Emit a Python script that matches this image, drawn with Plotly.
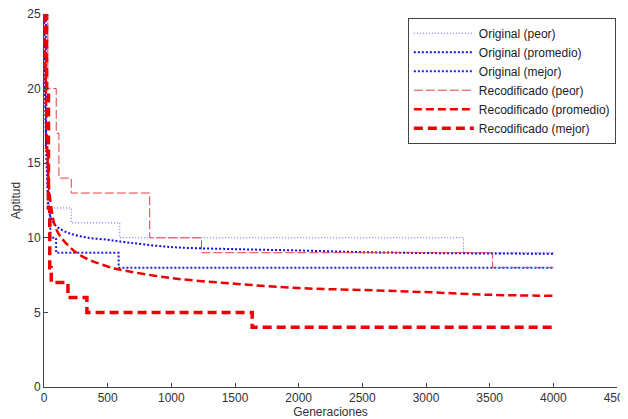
import plotly.graph_objects as go

# ---- data ----
orig_peor_x = [0, 10, 20, 30, 40, 214, 595, 3295, 4000]
orig_peor_y = [25, 20, 15, 13, 12, 11, 10, 9, 9]

orig_prom_x = [0, 10, 25, 50, 100, 200, 350, 500, 600, 1000, 1500, 2000, 2500, 3000, 3500, 4000]
orig_prom_y = [25, 19, 14, 11.4, 10.76, 10.3, 10.0, 9.87, 9.75, 9.38, 9.24, 9.15, 9.04, 8.98, 8.95, 8.93]

orig_mejor_x = [0, 15, 30, 50, 95, 586, 4000]
orig_mejor_y = [25, 16, 12, 10, 9, 8, 8]

rec_peor_x = [0, 30, 96, 117, 214, 830, 1237, 3523, 4000]
rec_peor_y = [25, 20, 17, 14, 13, 10, 9, 8, 8]

rec_prom_x = [0, 10, 25, 50, 100, 200, 300, 500, 600, 1000, 1500, 2000, 2500, 3000, 3500, 4000]
rec_prom_y = [25, 22, 16, 12.5, 10.5, 9.4, 8.75, 8.08, 7.86, 7.3, 6.92, 6.63, 6.5, 6.36, 6.18, 6.11]

rec_mejor_x = [0, 20, 35, 45, 57, 188, 337, 1635, 4000]
rec_mejor_y = [25, 20, 12, 8, 7, 6, 5, 4, 4]

x_ticks = [0, 500, 1000, 1500, 2000, 2500, 3000, 3500, 4000, 4500]
y_ticks = [0, 5, 10, 15, 20, 25]

fig = go.Figure()
fig.add_trace(go.Scatter(x=orig_peor_x, y=orig_peor_y, mode="lines", line_shape="hv",
                         name="Original (peor)",
                         line=dict(color="rgba(60,60,255,0.85)", width=1, dash="1px,2px")))
fig.add_trace(go.Scatter(x=orig_prom_x, y=orig_prom_y, mode="lines", line_shape="spline",
                         name="Original (promedio)",
                         line=dict(color="#1010e0", width=2, dash="2px,2px")))
fig.add_trace(go.Scatter(x=orig_mejor_x, y=orig_mejor_y, mode="lines", line_shape="hv",
                         name="Original (mejor)",
                         line=dict(color="#2020e8", width=2, dash="2px,2px")))
fig.add_trace(go.Scatter(x=rec_peor_x, y=rec_peor_y, mode="lines", line_shape="hv",
                         name="Recodificado (peor)",
                         line=dict(color="#e04040", width=1, dash="9px,3px")))
fig.add_trace(go.Scatter(x=rec_prom_x, y=rec_prom_y, mode="lines", line_shape="spline",
                         name="Recodificado (promedio)",
                         line=dict(color="#ee0000", width=2.5, dash="8px,4px")))
fig.add_trace(go.Scatter(x=rec_mejor_x, y=rec_mejor_y, mode="lines", line_shape="hv",
                         name="Recodificado (mejor)",
                         line=dict(color="#ee0000", width=3.5, dash="9px,5px")))

# the page body adds an 8px offset, so the figure is sized/margined to compensate
fig.update_layout(
    width=620, height=411,
    margin=dict(l=36, r=11, t=6, b=32),
    paper_bgcolor="white", plot_bgcolor="white",
    font=dict(family="Liberation Sans, Arial, sans-serif", size=12, color="#333"),
    showlegend=True,
    legend=dict(x=0.635, y=0.99, xanchor="left", yanchor="top",
                bgcolor="white", bordercolor="#444", borderwidth=1,
                font=dict(size=12, color="#222"), tracegroupgap=0,
                itemwidth=60),
    xaxis=dict(range=[0, 4500], tickvals=x_ticks, ticks="inside", ticklen=4,
               showgrid=False, zeroline=False, showline=True, linecolor="#444",
               linewidth=1, automargin=False, ticklabeloverflow="allow",
               title=dict(text="Generaciones", standoff=2,
                          font=dict(size=12, color="#333"))),
    yaxis=dict(range=[0, 25], tickvals=y_ticks, ticks="inside", ticklen=4,
               showgrid=False, zeroline=False, showline=True, linecolor="#444",
               linewidth=1, automargin=False, ticklabeloverflow="allow",
               title=dict(text="Aptitud", standoff=4,
                          font=dict(size=12, color="#333"))),
)

fig.write_html("out.html")
